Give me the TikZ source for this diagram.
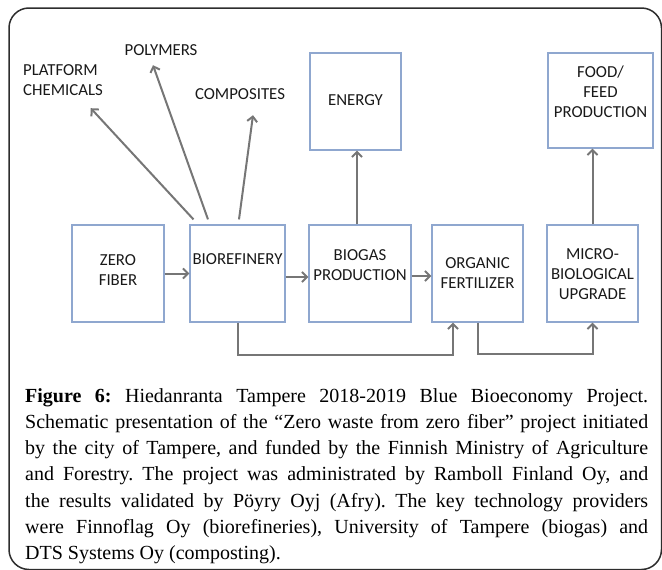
\documentclass[tikz,border=0pt]{standalone}
\usepackage{fontspec}
\setmainfont{Liberation Serif}
\newfontfamily\boxfont{Carlito}
\usepackage{xcolor}
\usetikzlibrary{arrows.meta}
\definecolor{boxblue}{RGB}{143,167,207}
\definecolor{arrgray}{RGB}{118,118,118}
\definecolor{txtgray}{RGB}{25,25,25}
\definecolor{framegray}{RGB}{45,45,45}

\begin{document}
\begin{tikzpicture}[x=1pt, y=-1pt,
  box/.style={draw=boxblue, line width=1.2pt, minimum width=#1, minimum height=97pt, inner sep=0pt},
  box/.default=91pt,
  lbl/.style={font=\boxfont\fontsize{16.8}{20}\selectfont, text=txtgray, align=center, inner sep=0pt},
  arr/.style={draw=arrgray, line width=2pt, -{Straight Barb[length=5pt,width=10pt]}}]
\useasboundingbox (0,0) rectangle (662,570);
\draw[framegray, line width=1.5pt, rounded corners=20pt] (9,8) rectangle (661.5,569.5);

\node[box=92pt] (zero) at (118,273.5) {};
\node[box=95pt] (bio) at (237.5,273.5) {};
\node[box=102pt] (gas) at (360,273.5) {};
\node[box] (org) at (477.5,273.5) {};
\node[box] (micro) at (592.5,273.5) {};
\node[box] (energy) at (355.5,101.5) {};
\node[box=105pt, minimum height=95pt] (food) at (600.5,100.5) {};

\node[lbl] (zerotxt) at (118,270) {ZERO\\FIBER};
\node[lbl] (biotxt) at (237.5,259) {BIOREFINERY};
\node[lbl] (gastxt) at (360,265) {BIOGAS\\PRODUCTION};
\node[lbl] (orgtxt) at (477.5,273) {ORGANIC\\FERTILIZER};
\node[lbl] (microtxt) at (592.5,274.5) {MICRO-\\BIOLOGICAL\\UPGRADE};
\node[lbl] (energytxt) at (355.5,100) {ENERGY};
\node[lbl] (foodtxt) at (600.5,92) {FOOD/\\FEED\\PRODUCTION};

\node[lbl, align=left, anchor=west] (chem) at (23,80) {PLATFORM\\CHEMICALS};
\node[lbl] (poly) at (161,50) {POLYMERS};
\node[lbl] (comp) at (240,94) {COMPOSITES};

\draw[arr] ([shift={(-44,-5)}]bio.north) -- ([shift={(27.7,12.5)}]chem.south);
\draw[arr] ([shift={(-29.5,-5)}]bio.north) -- ([shift={(-8,9.5)}]poly.south);
\draw[arr] ([shift={(1.5,-5)}]bio.north) -- ([shift={(13,15.5)}]comp.south);
\draw[arr] ([xshift=-3pt]gas.north) -- ([xshift=1.5pt]energy.south);
\draw[arr] (micro.north) -- (micro.north |- food.south);

\draw[arr] (zero) -- (bio);
\draw[arr] ([yshift=-3.5pt]bio.east) -- ([yshift=-3.5pt]gas.west);
\draw[arr] ([yshift=-2.5pt]gas.east) -- ([yshift=-2.5pt]org.west);
\draw[arr] (bio.south) -- ++(0,32) -| ([xshift=-24.5pt]org.south);
\draw[arr] (org.south) -- ++(0,31) -| (micro.south);

\node[anchor=north west, inner sep=0pt, text width=623pt, align=justify,
  font=\fontsize{20}{26.3}\selectfont\frenchspacing] (caption) at (25,388)
  {\textbf{Figure 6:} Hiedanranta Tampere 2018-2019 Blue Bioeconomy Project.\linebreak
  Schematic presentation of the “Zero waste from zero fiber” project initiated\linebreak
  by the city of Tampere, and funded by the Finnish Ministry of Agriculture\linebreak
  and Forestry. The project was administrated by Ramboll Finland Oy, and\linebreak
  the results validated by Pöyry Oyj (Afry). The key technology providers\linebreak
  were Finnoflag Oy (biorefineries), University of Tampere (biogas) and\linebreak
  DTS Systems Oy (composting).};
\end{tikzpicture}
\end{document}
